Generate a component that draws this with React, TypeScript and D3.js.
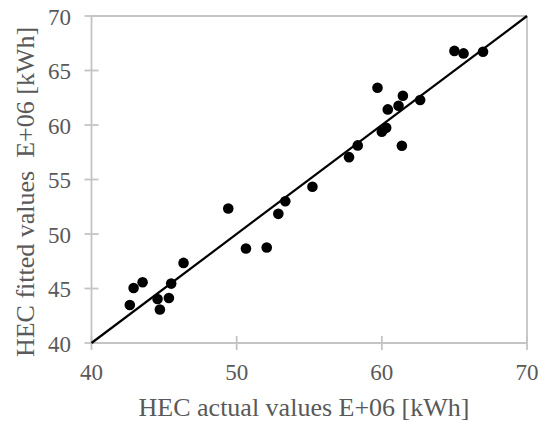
import React from "react";
import * as d3 from "d3";

const actual = [65.0, 65.63, 66.97, 59.7, 61.45, 62.64, 61.15, 60.41, 60.3, 60.0, 61.38, 58.34, 57.74, 49.42, 50.64, 52.07, 52.87, 53.35, 55.22, 42.64, 42.9, 43.52, 44.55, 44.71, 45.33, 45.49, 46.34];
const fitted = [66.8, 66.57, 66.72, 63.42, 62.68, 62.29, 61.76, 61.43, 59.74, 59.38, 58.09, 58.13, 57.05, 52.34, 48.67, 48.76, 51.85, 53.0, 54.33, 43.49, 45.05, 45.57, 44.04, 43.07, 44.13, 45.45, 47.35];
const xTicks = [40, 50, 60, 70];
const yTicks = [40, 45, 50, 55, 60, 65, 70];
const fitLine = [40, 70];

export default function App() {
  const W = 540, H = 421;
  const x = d3.scaleLinear().domain([40, 70]).range([91.5, 527]);
  const y = d3.scaleLinear().domain([40, 70]).range([343, 16]);
  const axisColor = "#c4c4c4";
  const textColor = "#595959";
  const font = "'Liberation Serif', 'Times New Roman', serif";
  const line = d3.line<number>().x((d) => x(d)).y((d) => y(d));
  return (
    <svg width={W} height={H} style={{ position: "absolute", left: 0, top: 0 }}>
      <rect width={W} height={H} fill="#fff" />
      <line x1={x(40)} x2={x(70)} y1={y(70)} y2={y(70)} stroke={axisColor} strokeWidth={1.8} />
      <line x1={x(70)} x2={x(70)} y1={y(70)} y2={y(40)} stroke={axisColor} strokeWidth={1.8} />
      <line x1={x(40)} x2={x(70)} y1={y(40)} y2={y(40)} stroke={axisColor} strokeWidth={1.8} />
      <line x1={x(40)} x2={x(40)} y1={y(70)} y2={y(40)} stroke={axisColor} strokeWidth={1.8} />
      {yTicks.map((t) => (
        <g key={"y" + t}>
          <line x1={x(40) - 7} x2={x(40) + 7} y1={y(t)} y2={y(t)} stroke={axisColor} strokeWidth={1.8} />
          <text x={71} y={y(t) + 8.7} textAnchor="end" fontFamily={font} fontSize={23} fill={textColor}>{t}</text>
        </g>
      ))}
      {xTicks.map((t) => (
        <g key={"x" + t}>
          <line x1={x(t)} x2={x(t)} y1={y(40) - 7} y2={y(40) + 7} stroke={axisColor} strokeWidth={1.8} />
          <text x={x(t)} y={380} textAnchor="middle" fontFamily={font} fontSize={23} fill={textColor}>{t}</text>
        </g>
      ))}
      <path d={line(fitLine) || ""} stroke="#000" strokeWidth={2.2} fill="none" />
      {actual.map((a, i) => (
        <circle key={i} cx={x(a)} cy={y(fitted[i])} r={5.3} fill="#000" />
      ))}
      <text x={304} y={416} textAnchor="middle" fontFamily={font} fontSize={26} fill={textColor}>HEC actual values E+06 [kWh]</text>
      <text transform={`translate(34, 192) rotate(-90)`} textAnchor="middle" fontFamily={font} fontSize={26} fill={textColor} xmlSpace="preserve">HEC fitted values  E+06 [kWh]</text>
    </svg>
  );
}
